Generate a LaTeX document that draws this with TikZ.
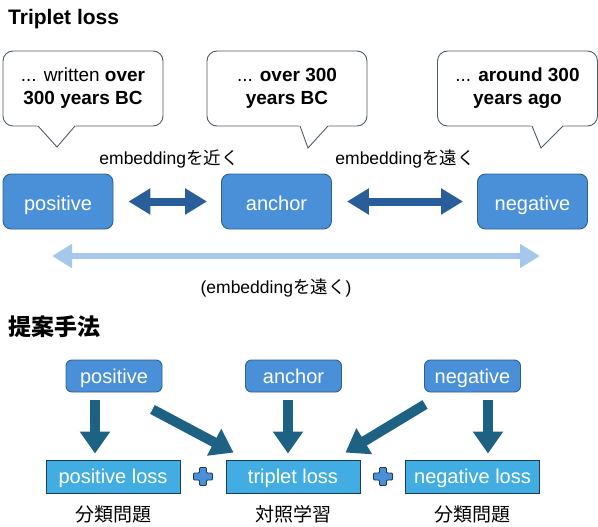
\documentclass[tikz,border=0pt]{standalone}
\usepackage{fontspec}
\setmainfont{Liberation Sans}
\newfontfamily\cjk{Noto Sans CJK JP}
\usetikzlibrary{arrows.meta,positioning,calc}
\definecolor{boxblue}{HTML}{4A90D9}
\definecolor{boxedge}{HTML}{2F5F8F}
\definecolor{bubbleedge}{HTML}{4F5B66}
\definecolor{toparrow}{HTML}{2A5E9B}
\definecolor{fararrow}{HTML}{A6C9EB}
\definecolor{botarrow}{HTML}{1D6183}
\definecolor{lossfill}{HTML}{42ADE2}
\definecolor{lossedge}{HTML}{1E3A55}
\begin{document}
\begin{tikzpicture}[x=1pt,y=-1pt,
  every node/.style={inner sep=0pt},
  heading/.style={font=\fontsize{21}{25}\selectfont\bfseries},
  bubble/.style={draw=bubbleedge,line width=0.9pt,rounded corners=10pt,fill=white,
    minimum width=160pt,minimum height=75pt,align=center,font=\fontsize{19}{23}\selectfont},
  tail/.style={draw=bubbleedge,line width=0.9pt},
  bigbox/.style={draw=boxedge,line width=0.9pt,fill=boxblue,rounded corners=8pt,
    minimum width=110pt,minimum height=55pt,text=white,text height=21pt,text depth=4pt,
    font=\fontsize{20}{24}\selectfont},
  smallbox/.style={bigbox,rounded corners=6pt,minimum width=96pt,minimum height=32pt,
    text height=18pt,text depth=4pt},
  lossbox/.style={draw=lossedge,line width=0.9pt,fill=lossfill,minimum width=134pt,
    minimum height=33pt,text=white,text height=17pt,text depth=4pt,
    font=\fontsize{20}{24}\selectfont},
  note/.style={font=\fontsize{17.5}{21}\selectfont},
  kind/.style={font=\fontsize{19}{23}\selectfont\cjk},
  twoway/.style={{Triangle[width=25pt,length=22pt]}-{Triangle[width=25pt,length=22pt]},
    line width=8pt,draw=toparrow},
  farway/.style={{Triangle[width=23pt,length=20pt]}-{Triangle[width=23pt,length=20pt]},
    line width=6pt,draw=fararrow},
  feed/.style={-{Triangle[width=29pt,length=22pt]},line width=10pt,draw=botarrow},
  plusmark/.pic={\filldraw[fill=boxblue,draw=lossedge,line width=0.8pt,rounded corners=1pt]
    (-3.5,-9) -- (3.5,-9) -- (3.5,-3.5) -- (9.5,-3.5) -- (9.5,3.5) -- (3.5,3.5) -- (3.5,9)
    -- (-3.5,9) -- (-3.5,3.5) -- (-9.5,3.5) -- (-9.5,-3.5) -- (-3.5,-3.5) -- cycle;}
]
\useasboundingbox (0,0) rectangle (598,527);

\node[heading,anchor=base west] (title1) at (8,25) {Triplet loss};

\node[bubble] (bub1) at (83,88.5) {... written \textbf{over}\\\textbf{300 years BC}};
\fill[white] (37,125) -- (57,147) -- (76,125) -- cycle;
\draw[tail] (38,126) -- (57,147) -- (75,126);
\node[bubble] (bub2) at (287,88.5) {... \textbf{over 300}\\\textbf{years BC}};
\fill[white] (299,125) -- (308,148) -- (329,125) -- cycle;
\draw[tail] (300,126) -- (308,148) -- (328,126);
\node[bubble] (bub3) at (517.5,88.5) {... \textbf{around 300}\\\textbf{years ago}};
\fill[white] (531,125) -- (541,148) -- (564,125) -- cycle;
\draw[tail] (532,126) -- (541,148) -- (563,126);

\node[bigbox] (pos) at (58,201.5) {positive};
\node[bigbox] (anc) at (276.5,201.5) {anchor};
\node[bigbox] (neg) at (532.5,201.5) {negative};

\node[note] (near) at (169,159) {embedding{\cjk を近く}};
\node[note] (far) at (405,159) {embedding{\cjk を遠く}};

\draw[twoway,shorten <=15pt,shorten >=14pt] (pos.east) -- (anc.west);
\draw[twoway,shorten <=15pt,shorten >=14pt] (anc.east) -- (neg.west);

\coordinate (farL) at (52,256);
\coordinate (farR) at (540,256);
\draw[farway] (farL) -- (farR);
\node[note] (farnote) at (276,288) {(embedding{\cjk を遠く})};

\node[heading,anchor=west,font=\fontsize{23}{27}\selectfont\cjk\bfseries] (title2) at (8,327) {提案手法};

\node[smallbox] (pos2) at (114,376) {positive};
\node[smallbox] (anc2) at (293.5,376) {anchor};
\node[smallbox] (neg2) at (472.5,376) {negative};

\node[lossbox] (ploss) at (113,476.5) {positive loss};
\node[lossbox] (tloss) at (293,476.5) {triplet loss};
\node[lossbox] (nloss) at (472.5,476.5) {negative loss};

\pic (plusA) at (203,476.5) {plusmark};
\pic (plusB) at (383,476.5) {plusmark};

\node[kind,below=12pt of ploss] (kindA) {分類問題};
\node[kind,below=12pt of tloss] (kindB) {対照学習};
\node[kind,below=12pt of nloss] (kindC) {分類問題};

\draw[feed,shorten <=8pt,shorten >=6pt] ([xshift=-19pt]pos2.south) -- ([xshift=-18pt]ploss.north);
\draw[feed,shorten <=8pt,shorten >=6pt] ([xshift=-5.5pt]anc2.south) -- ([xshift=-5pt]tloss.north);
\draw[feed,shorten <=8pt,shorten >=6pt] ([xshift=15.5pt]neg2.south) -- ([xshift=15.5pt]nloss.north);
\draw[feed] ($(pos2.south east)+(-10,17)$) -- ($(tloss.north west)+(8,-7)$);
\draw[feed] ($(neg2.south west)+(1,12)$) -- ($(tloss.north east)+(-15,-7)$);
\end{tikzpicture}
\end{document}
